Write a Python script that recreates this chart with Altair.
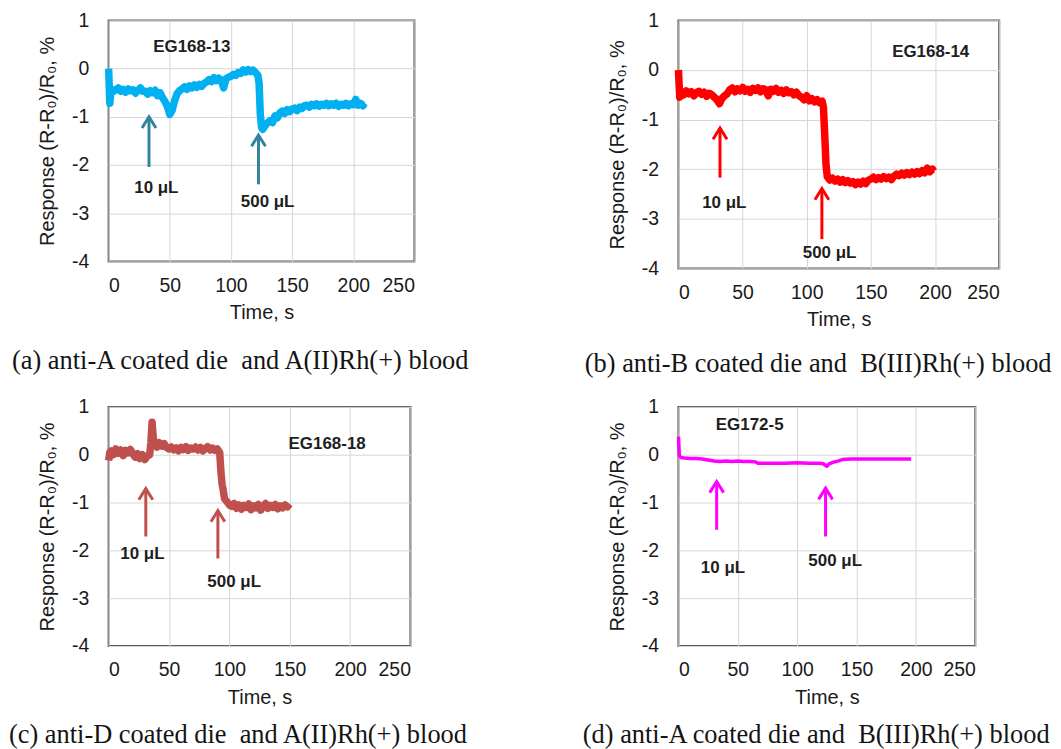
import altair as alt
import pandas as pd

# ---------------- data ----------------
# (time s, response %)
series_a = [(0, 0.0), (1, -0.72), (2, -0.42), (4, -0.47), (6, -0.44), (8, -0.40), (10, -0.47), (12, -0.43),
            (14, -0.49), (16, -0.42), (18, -0.46), (20, -0.44), (22, -0.51), (24, -0.45), (26, -0.40), (28, -0.47),
            (30, -0.47), (32, -0.53), (34, -0.46), (36, -0.50), (38, -0.45), (40, -0.56), (42, -0.50),
            (44, -0.60), (46, -0.68), (48, -0.78), (50, -0.95), (52, -0.86), (54, -0.66), (56, -0.52), (58, -0.46),
            (60, -0.42), (62, -0.38), (64, -0.43), (66, -0.36), (68, -0.40), (70, -0.34), (72, -0.39), (74, -0.33),
            (76, -0.37), (78, -0.31), (80, -0.28), (82, -0.23), (84, -0.27), (86, -0.19), (88, -0.25), (90, -0.20),
            (92, -0.24), (94, -0.40), (96, -0.21), (98, -0.18), (100, -0.16), (102, -0.12), (104, -0.14),
            (106, -0.08), (108, -0.10), (110, -0.03), (112, -0.07), (114, -0.02), (116, -0.06), (118, -0.03),
            (120, -0.08), (122, -0.14), (123, -0.30), (124, -0.95), (125, -1.22), (126, -1.26), (128, -1.18),
            (130, -1.12), (132, -1.08), (134, -1.12), (136, -0.98), (138, -1.02), (140, -0.92), (142, -0.88),
            (144, -0.93), (146, -0.85), (148, -0.89), (150, -0.84), (152, -0.82), (154, -0.87), (156, -0.80),
            (158, -0.83), (160, -0.77), (162, -0.76), (164, -0.80), (166, -0.74), (168, -0.77), (170, -0.73),
            (172, -0.78), (174, -0.74), (176, -0.76), (178, -0.72), (180, -0.77), (182, -0.73), (184, -0.76),
            (186, -0.72), (188, -0.78), (190, -0.74), (192, -0.76), (194, -0.72), (196, -0.77), (198, -0.73),
            (200, -0.75), (202, -0.64), (204, -0.76), (206, -0.72), (208, -0.77), (209, -0.72)]

series_b = [(0, 0.0), (1, -0.55), (2, -0.45), (4, -0.50), (6, -0.42), (8, -0.48), (10, -0.44), (12, -0.52),
            (14, -0.46), (16, -0.43), (18, -0.49), (20, -0.45), (22, -0.53), (24, -0.47), (26, -0.50), (28, -0.55),
            (30, -0.60), (32, -0.68), (34, -0.57), (36, -0.52), (38, -0.48), (40, -0.40), (42, -0.36), (44, -0.44),
            (46, -0.38), (48, -0.42), (50, -0.35), (52, -0.43), (54, -0.39), (56, -0.45), (58, -0.37), (60, -0.41),
            (62, -0.36), (64, -0.44), (66, -0.38), (68, -0.40), (70, -0.52), (72, -0.39), (74, -0.43), (76, -0.37),
            (78, -0.45), (80, -0.41), (82, -0.47), (84, -0.40), (86, -0.46), (88, -0.44), (90, -0.50), (92, -0.45),
            (94, -0.52), (96, -0.55), (98, -0.60), (100, -0.52), (102, -0.62), (104, -0.58), (106, -0.64),
            (108, -0.60), (110, -0.66), (112, -0.63), (113, -0.75), (114, -1.30), (115, -1.90), (116, -2.15),
            (118, -2.22), (120, -2.18), (122, -2.24), (124, -2.20), (126, -2.26), (128, -2.21), (130, -2.27),
            (132, -2.23), (134, -2.28), (136, -2.25), (138, -2.31), (140, -2.26), (142, -2.30), (144, -2.24),
            (146, -2.29), (148, -2.22), (150, -2.20), (152, -2.16), (154, -2.21), (156, -2.17), (158, -2.20),
            (160, -2.15), (162, -2.19), (164, -2.16), (166, -2.21), (168, -2.14), (170, -2.10), (172, -2.13),
            (174, -2.08), (176, -2.12), (178, -2.07), (180, -2.11), (182, -2.06), (184, -2.10), (186, -2.05),
            (188, -2.09), (190, -2.03), (192, -2.07), (194, -1.98), (196, -2.05), (198, -2.00), (199, -2.04)]

series_c = [(0, -0.12), (1, 0.05), (2, 0.08), (4, 0.0), (6, 0.12), (8, 0.03), (10, 0.10), (12, -0.02),
            (14, 0.09), (16, 0.04), (18, 0.11), (20, 0.02), (22, -0.05), (24, 0.02), (26, -0.08), (28, 0.0),
            (30, -0.10), (32, -0.03), (34, 0.0), (35, 0.25), (36, 0.68), (37, 0.35), (38, 0.22), (40, 0.16),
            (42, 0.25), (44, 0.18), (46, 0.23), (48, 0.15), (50, 0.12), (52, 0.16), (54, 0.10), (56, 0.14),
            (58, 0.08), (60, 0.15), (62, 0.11), (64, 0.17), (66, 0.09), (68, 0.14), (70, 0.12), (72, 0.16),
            (74, 0.10), (76, 0.15), (78, 0.08), (80, 0.13), (82, 0.17), (84, 0.10), (86, 0.14), (88, 0.09),
            (90, 0.12), (92, 0.05), (93, -0.35), (94, -0.62), (95, -0.75), (96, -0.92), (98, -0.98), (100, -1.05),
            (102, -1.08), (104, -1.02), (106, -1.12), (108, -1.05), (110, -1.14), (112, -1.06), (114, -1.10),
            (116, -1.03), (118, -1.15), (120, -1.07), (122, -1.11), (124, -1.04), (126, -1.16), (128, -1.08),
            (130, -1.02), (132, -1.12), (134, -1.06), (136, -1.10), (138, -1.04), (140, -1.13), (142, -1.07),
            (144, -1.11), (146, -1.05), (148, -1.09), (150, -1.03)]

series_d = [(0, 0.38), (0.8, -0.02), (2, -0.06), (5, -0.07), (10, -0.08), (15, -0.08), (20, -0.09), (25, -0.11),
            (30, -0.13), (35, -0.14), (40, -0.13), (45, -0.14), (50, -0.13), (55, -0.14), (60, -0.14), (65, -0.15),
            (67, -0.18), (70, -0.18), (80, -0.18), (90, -0.18), (100, -0.17), (110, -0.18), (118, -0.18),
            (122, -0.19), (125, -0.24), (127, -0.19), (130, -0.16), (135, -0.13), (138, -0.10), (145, -0.09),
            (155, -0.09), (165, -0.09), (175, -0.09), (185, -0.09), (196, -0.09)]

# arrows: (time, tip, tail)
arrows_a = [(33, -1.0, -2.04), (122.5, -1.38, -2.40)]
arrows_b = [(32.4, -1.17, -2.17), (111.8, -2.39, -3.41)]
arrows_c = [(30.8, -0.71, -1.71), (90.5, -1.17, -2.17)]
arrows_d = [(32.2, -0.56, -1.57), (123.9, -0.70, -1.71)]

# labels: (time, value, text)
labels_a = [(39, -2.47, "10 μL"), (130, -2.76, "500 μL"), (68, 0.44, "EG168-13")]
labels_b = [(35.7, -2.69, "10 μL"), (117.8, -3.68, "500 μL"), (196.6, 0.37, "EG168-14")]
labels_c = [(28, -2.07, "10 μL"), (104, -2.67, "500 μL"), (181, 0.22, "EG168-18")]
labels_d = [(37.5, -2.38, "10 μL"), (132, -2.23, "500 μL"), (60, 0.62, "EG172-5")]

captions = ["(a) anti-A coated die\u00a0 and A(II)Rh(+) blood",
            "(b) anti-B coated die and\u00a0 B(III)Rh(+) blood",
            "(c) anti-D coated die\u00a0 and A(II)Rh(+) blood",
            "(d) anti-A coated die and\u00a0 B(III)Rh(+) blood"]

x_ticks = [0, 50, 100, 150, 200, 250]
y_ticks = [-4, -3, -2, -1, 0, 1]

SANS = "Liberation Sans"
SERIF = "Liberation Serif"
CHEVRON = "M-1,1.6L0,0L1,1.6"


def panel(series, color, lw, arrow_color, arrows, labels, caption, w, h, cap_x, cap_y):
    df = pd.DataFrame(series, columns=["t", "v"])
    xenc = alt.X("t:Q", scale=alt.Scale(domain=[0, 250], nice=False),
                 axis=alt.Axis(values=x_ticks, title="Time, s", labelExpr="'' + datum.value"))
    yenc = alt.Y("v:Q", scale=alt.Scale(domain=[-4, 1], nice=False),
                 axis=alt.Axis(values=y_ticks, title="Response (R-R₀)/R₀, %",
                               labelExpr="'' + datum.value"))
    line = alt.Chart(df).mark_line(color=color, strokeWidth=lw, strokeJoin="round").encode(x=xenc, y=yenc)

    adf = pd.DataFrame(arrows, columns=["t", "tip", "tail"])
    shaft = alt.Chart(adf).mark_rule(color=arrow_color, strokeWidth=3).encode(
        x="t:Q", y="tip:Q", y2="tail:Q")
    head = alt.Chart(adf).mark_point(shape=CHEVRON, filled=False, color=arrow_color,
                                     strokeWidth=3, size=196, opacity=1).encode(x="t:Q", y="tip:Q")

    ldf = pd.DataFrame(labels, columns=["t", "v", "txt"])
    txt = alt.Chart(ldf).mark_text(font=SANS, fontSize=17, fontWeight="bold", color="#1e1e1e").encode(
        x="t:Q", y="v:Q", text="txt:N")

    cdf = pd.DataFrame({"c": [caption]})
    cap = alt.Chart(cdf).mark_text(font=SERIF, fontSize=26.5, color="#141414", align="left",
                                   baseline="middle").encode(
        x=alt.value(cap_x), y=alt.value(cap_y), text="c:N")

    return alt.layer(line, shaft, head, txt, cap).properties(width=w, height=h)


pa = panel(series_a, "#00B0F0", 7.5, "#31849B", arrows_a, labels_a, captions[0], 307, 242, -97, 342)
pb = panel(series_b, "#FF0000", 7.5, "#FF0000", arrows_b, labels_b, captions[1], 322, 249, -94, 345)
pc = panel(series_c, "#C0504D", 7.5, "#C0504D", arrows_c, labels_c, captions[2], 303, 240, -100, 329)
pd_ = panel(series_d, "#FF00FF", 3.5, "#FF00FF", arrows_d, labels_d, captions[3], 298, 240, -96, 329)

chart = alt.concat(pa, pb, pc, pd_, columns=2, spacing={"row": 139, "column": 250},
                   bounds="flush", align="all").properties(padding=0).configure_view(
    stroke="#5a5a5a", strokeWidth=2
).configure_axis(
    grid=True, gridColor="#d6d6d6", gridWidth=1, ticks=False, domain=False,
    labelFont=SANS, labelFontSize=19.5, labelColor="#1a1a1a", labelPadding=14,
    titleFont=SANS, titleFontSize=20, titleFontWeight="normal", titleColor="#1a1a1a"
).configure_axisY(labelPadding=20, titlePadding=14).configure_axisX(labelPadding=15, titlePadding=8)

chart.save("out.html", embed_options={"renderer": "svg", "actions": False})
